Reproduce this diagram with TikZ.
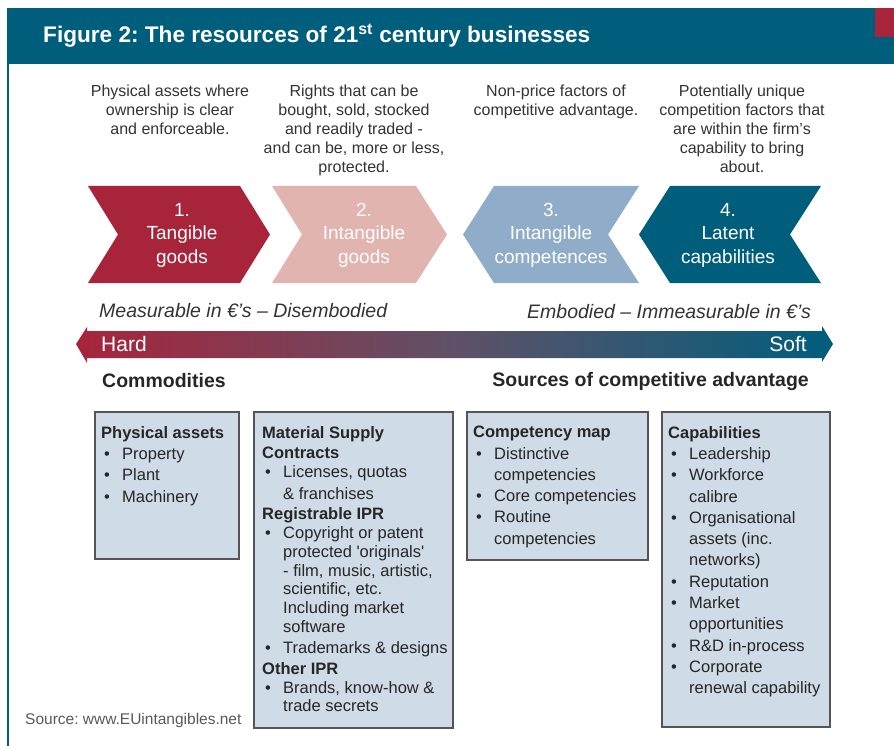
\documentclass[tikz,border=0pt]{standalone}
\usepackage{fontspec}
\setmainfont{Liberation Sans}
\frenchspacing
\definecolor{hdrteal}{HTML}{005E7D}
\definecolor{crimson}{HTML}{A8243B}
\definecolor{rosy}{HTML}{E2B4AF}
\definecolor{steel}{HTML}{8FADC8}
\definecolor{mauve}{HTML}{5F5167}
\definecolor{panelfill}{HTML}{CFDBE6}
\definecolor{panelline}{HTML}{555555}
\definecolor{inkgray}{HTML}{333333}
\newcommand{\bitem}[1]{\makebox[21pt][l]{\hspace{3pt}\textbullet}#1}
\newcommand{\bcont}[1]{\hspace*{21pt}#1}

\begin{document}
\begin{tikzpicture}[x=1pt,y=-1pt,
	desc/.style={anchor=north,align=center,inner sep=0,text=inkgray,font=\fontsize{16}{19}\selectfont},
	chevtext/.style={align=center,inner sep=0,text=white,font=\fontsize{19}{23.5}\selectfont},
	panel/.style={fill=panelfill,draw=panelline,line width=1.3pt},
	paneltext/.style={anchor=north west,align=left,inner sep=0,text=black!85,font=\fontsize{16.5}{21.3}\selectfont}]

	\useasboundingbox (0,0) rectangle (894,746);

	% header band
	\fill[hdrteal] (7,8) rectangle (894,64);
	\fill[crimson] (875,8) rectangle (894,37);
	\draw[hdrteal,line width=1.2pt] (8,64) -- (8,746);
	\node[anchor=west,inner sep=0,text=white,font=\fontsize{22.6}{26}\selectfont\bfseries] (title) at (43,36)
		{Figure 2: The resources of 21\textsuperscript{st} century businesses};

	% descriptions
	\node[desc] (desc1) at (170,85) {Physical assets where\\ownership is clear\\and enforceable.};
	\node[desc] (desc2) at (354,85) {Rights that can be\\bought, sold, stocked\\and readily traded -\\and can be, more or less,\\protected.};
	\node[desc] (desc3) at (556,85) {Non-price factors of\\competitive advantage.};
	\node[desc] (desc4) at (742,85) {Potentially unique\\competition factors that\\are within the firm's\\capability to bring\\about.};

	% chevrons
	\fill[crimson] (88,186) -- (240,186) -- (270,234.5) -- (240,283) -- (88,283) -- (118,234.5) -- cycle;
	\fill[rosy] (272,186) -- (416,186) -- (447,234.5) -- (416,283) -- (272,283) -- (302,234.5) -- cycle;
	\fill[steel] (463,234.5) -- (494,186) -- (639,186) -- (608,234.5) -- (639,283) -- (494,283) -- cycle;
	\fill[hdrteal] (639,234.5) -- (670,186) -- (821,186) -- (790,234.5) -- (821,283) -- (670,283) -- cycle;

	\node[chevtext] (tangible) at (182,235) {1.\\Tangible\\goods};
	\node[chevtext] (intgoods) at (364,235) {2.\\Intangible\\goods};
	\node[chevtext] (intcomp) at (551,235) {3.\\Intangible\\competences};
	\node[chevtext] (latent) at (728,235) {4.\\Latent\\capabilities};

	% hard - soft scale
	\node[anchor=west,inner sep=0,text=inkgray,font=\fontsize{19.5}{22}\selectfont\itshape] (measurable) at (99,311)
		{Measurable in €'s – Disembodied};
	\node[anchor=east,inner sep=0,text=inkgray,font=\fontsize{19.5}{22}\selectfont\itshape] (embodied) at (811,312)
		{Embodied – Immeasurable in €'s};

	\shade[left color=crimson,right color=hdrteal,middle color=mauve]
		(76,344) -- (87,327) -- (87,331) -- (822,331) -- (822,326) -- (833,344)
		-- (822,362) -- (822,358) -- (87,358) -- (87,363) -- cycle;
	\node[anchor=west,inner sep=0,text=white,font=\fontsize{21}{24}\selectfont] (hard) at (101,344) {Hard};
	\node[anchor=east,inner sep=0,text=white,font=\fontsize{21}{24}\selectfont] (soft) at (807,344) {Soft};

	\node[anchor=west,inner sep=0,text=black!85,font=\fontsize{19.5}{22}\selectfont\bfseries] (commod) at (102,381) {Commodities};
	\node[anchor=east,inner sep=0,text=black!85,font=\fontsize{19.5}{22}\selectfont\bfseries] (sources) at (809,381) {Sources of competitive advantage};

	% panels
	\draw[panel] (95,412) rectangle (239,559);
	\draw[panel] (254,412) rectangle (453,728);
	\draw[panel] (467,412) rectangle (648,560);
	\draw[panel] (662,412) rectangle (830,727);

	\node[paneltext] (physical) at (101,426) {\textbf{Physical assets}\\
		\bitem{Property}\\
		\bitem{Plant}\\
		\bitem{Machinery}};
	\node[paneltext,font=\fontsize{16.5}{18.7}\selectfont] (material) at (262,426) {\textbf{Material Supply}\\[2pt]
		\textbf{Contracts}\\
		\bitem{Licenses, quotas}\\[3pt]
		\bcont{\& franchises}\\[2pt]
		\textbf{Registrable IPR}\\
		\bitem{Copyright or patent}\\
		\bcont{protected \textquotesingle originals\textquotesingle}\\
		\bcont{- film, music, artistic,}\\
		\bcont{scientific, etc.}\\
		\bcont{Including market}\\
		\bcont{software}\\[3pt]
		\bitem{Trademarks \& designs}\\[2pt]
		\textbf{Other IPR}\\
		\bitem{Brands, know-how \&}\\
		\bcont{trade secrets}};
	\node[paneltext] (competency) at (473,426) {\textbf{Competency map}\\
		\bitem{Distinctive}\\
		\bcont{competencies}\\
		\bitem{Core competencies}\\
		\bitem{Routine}\\
		\bcont{competencies}};
	\node[paneltext] (capab) at (668,426) {\textbf{Capabilities}\\
		\bitem{Leadership}\\
		\bitem{Workforce}\\
		\bcont{calibre}\\
		\bitem{Organisational}\\
		\bcont{assets (inc.}\\
		\bcont{networks)}\\
		\bitem{Reputation}\\
		\bitem{Market}\\
		\bcont{opportunities}\\
		\bitem{R\&D in-process}\\
		\bitem{Corporate}\\
		\bcont{renewal capability}};

	\node[anchor=west,inner sep=0,text=black!65,font=\fontsize{15.5}{18}\selectfont] (source) at (25,720) {Source: www.EUintangibles.net};
\end{tikzpicture}
\end{document}
